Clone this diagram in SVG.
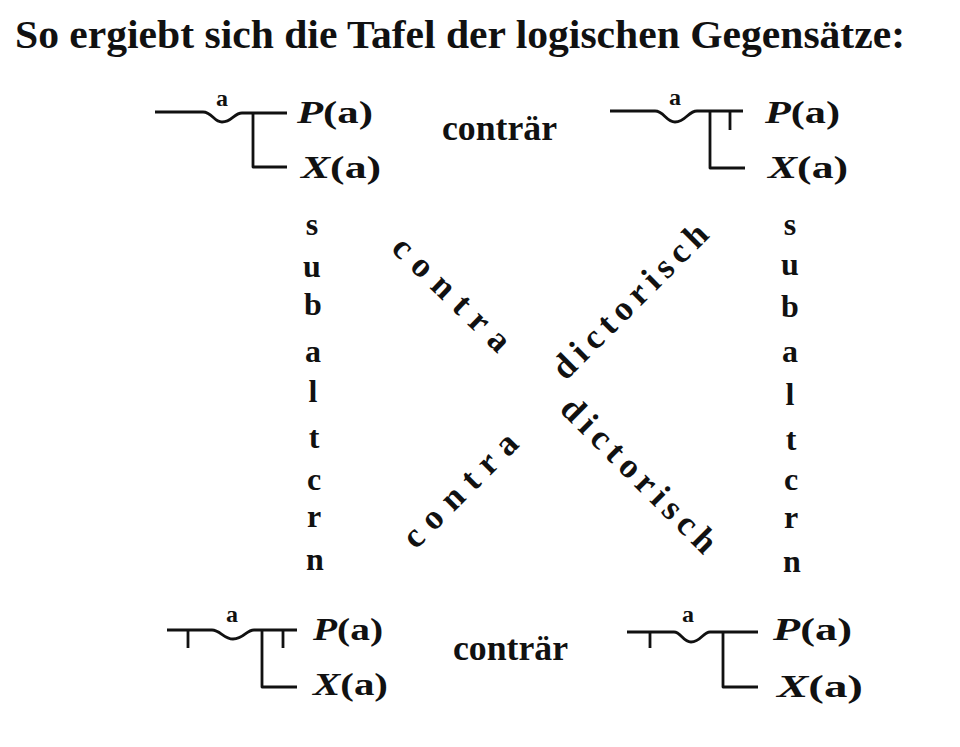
<svg xmlns="http://www.w3.org/2000/svg" width="960" height="747" viewBox="0 0 960 747">
<style>
.t{font-family:"Liberation Serif","DejaVu Serif",serif;font-weight:bold;fill:#111;}
.ln{fill:none;stroke:#111;stroke-width:2.8;stroke-linecap:butt;stroke-linejoin:round;}
.f{font-size:32px;}
.v{font-size:32px;text-anchor:middle;}
.d{font-size:35px;text-anchor:middle;}
.s{font-size:24px;text-anchor:middle;}
</style>
<rect width="960" height="747" fill="#fff"/>
<text class="t" x="15" y="48" font-size="41" textLength="890" lengthAdjust="spacingAndGlyphs">So ergiebt sich die Tafel der logischen Gegensätze:</text>

<g id="node-top-left">
<path class="ln" d="M155,112 H203 C212,112 214,122 222,122 C232,122 234,113 242,113 H287"/>
<path class="ln" d="M253,113 V167 H287"/>
<text class="t s" x="222" y="106">a</text>
<text class="t f" x="297" y="123" textLength="76" lengthAdjust="spacingAndGlyphs"><tspan font-style="italic">P</tspan>(a)</text>
<text class="t f" x="301" y="178" textLength="80" lengthAdjust="spacingAndGlyphs"><tspan font-style="italic">X</tspan>(a)</text>
</g>

<g id="node-top-right">
<path class="ln" d="M610,111 H655 C664,111 666,122 675,122 C686,122 688,111 697,111 H743"/>
<path class="ln" d="M710,111 V168 H745"/>
<path class="ln" d="M730,111 V130"/>
<text class="t s" x="675" y="105">a</text>
<text class="t f" x="765" y="123" textLength="75" lengthAdjust="spacingAndGlyphs"><tspan font-style="italic">P</tspan>(a)</text>
<text class="t f" x="768" y="178" textLength="80" lengthAdjust="spacingAndGlyphs"><tspan font-style="italic">X</tspan>(a)</text>
</g>

<g id="node-bottom-left">
<path class="ln" d="M167,630 H212 C220,630 224,639 233,639 C244,639 246,630 254,630 H297"/>
<path class="ln" d="M188,630 V648"/>
<path class="ln" d="M262,630 V687 H297"/>
<path class="ln" d="M283,630 V648"/>
<text class="t s" x="232" y="622">a</text>
<text class="t f" x="313" y="640" textLength="70" lengthAdjust="spacingAndGlyphs"><tspan font-style="italic">P</tspan>(a)</text>
<text class="t f" x="313" y="695" textLength="75" lengthAdjust="spacingAndGlyphs"><tspan font-style="italic">X</tspan>(a)</text>
</g>

<g id="node-bottom-right">
<path class="ln" d="M627,632 H674 C681,632 683,642 691,642 C701,642 703,632 710,632 H758"/>
<path class="ln" d="M650,632 V648"/>
<path class="ln" d="M723,632 V687 H758"/>
<text class="t s" x="688" y="622">a</text>
<text class="t f" x="773" y="640" textLength="79" lengthAdjust="spacingAndGlyphs"><tspan font-style="italic">P</tspan>(a)</text>
<text class="t f" x="777" y="697" textLength="86" lengthAdjust="spacingAndGlyphs"><tspan font-style="italic">X</tspan>(a)</text>
</g>

<g id="connectors">
<text class="t" x="442" y="140" font-size="35" textLength="115" lengthAdjust="spacingAndGlyphs">conträr</text>
<text class="t" x="453" y="660" font-size="35" textLength="115" lengthAdjust="spacingAndGlyphs">conträr</text>

<g id="subaltern-left" class="t v">
<text x="312" y="235">s</text>
<text x="312" y="277">u</text>
<text x="313" y="315">b</text>
<text x="313" y="362">a</text>
<text x="313" y="402">l</text>
<text x="314" y="448">t</text>
<text x="314" y="490">c</text>
<text x="314" y="527">r</text>
<text x="315" y="570">n</text>
</g>
<g id="subaltern-right" class="t v">
<text x="790" y="235">s</text>
<text x="790" y="275">u</text>
<text x="790" y="317">b</text>
<text x="790" y="362">a</text>
<text x="790" y="405">l</text>
<text x="791" y="450">t</text>
<text x="791" y="490">c</text>
<text x="791" y="528">r</text>
<text x="792" y="572">n</text>
</g>

<text class="t d" transform="translate(444,302) rotate(44)" textLength="150" lengthAdjust="spacing">contra</text>
<text class="t d" transform="translate(638,309) rotate(-45)" textLength="205" lengthAdjust="spacing">dictorisch</text>
<text class="t d" transform="translate(468,498) rotate(-45)" textLength="148" lengthAdjust="spacing">contra</text>
<text class="t d" transform="translate(631,483) rotate(45)" textLength="205" lengthAdjust="spacing">dictorisch</text>
</g>
</svg>
